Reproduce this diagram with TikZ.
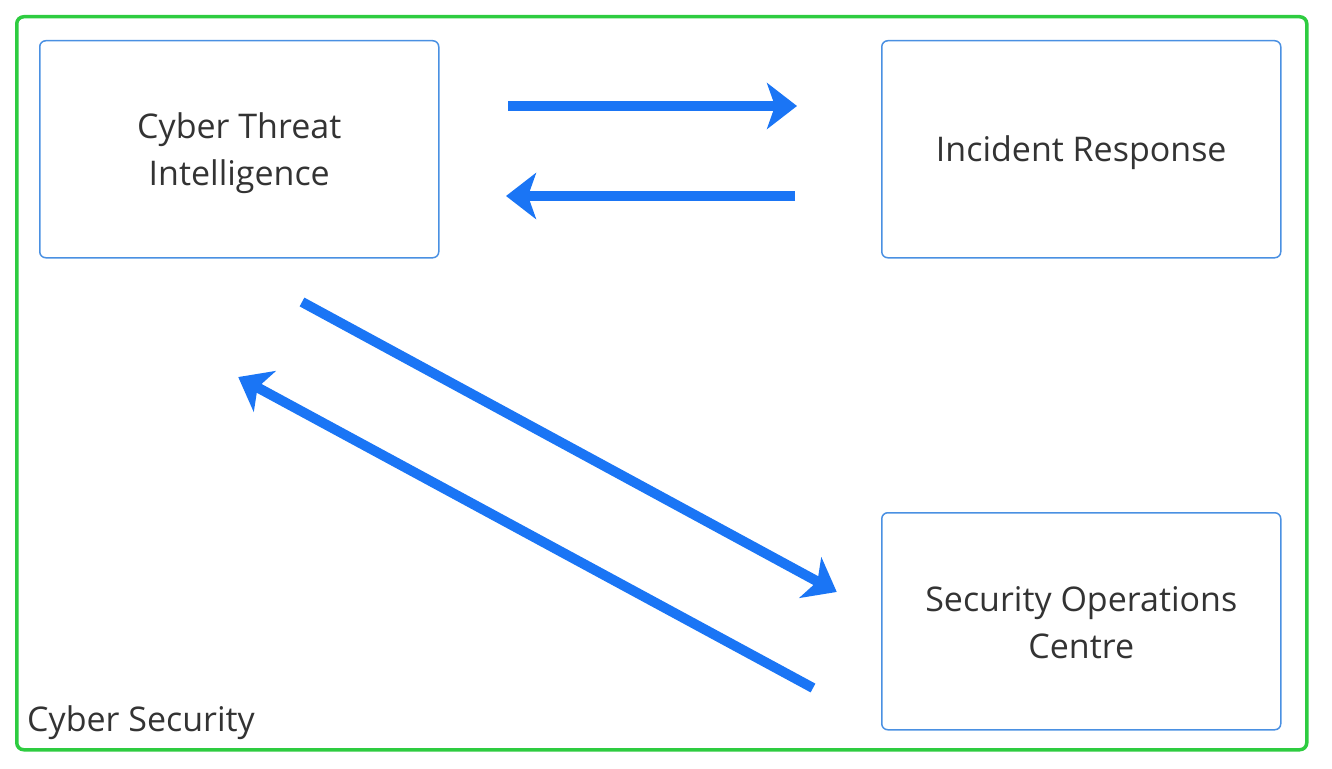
\documentclass[tikz,border=0pt]{standalone}
\usepackage{fontspec}
\setmainfont{Open Sans}
\usetikzlibrary{arrows.meta}
\definecolor{framegreen}{HTML}{2ECC40}
\definecolor{boxblue}{HTML}{4A90E2}
\definecolor{arrowblue}{HTML}{1A75F5}
\definecolor{txt}{HTML}{333333}
\tikzset{
  box/.style={draw=boxblue, line width=1.5pt, rounded corners=6pt, minimum width=399pt, minimum height=217pt, anchor=north west, inner sep=0pt},
  boxtext/.style={align=center, text=txt, font=\fontsize{34}{47}\selectfont, inner sep=0pt},
  flow/.style={draw=arrowblue, line width=10pt, -{Stealth[length=30pt, width=46pt, inset=8pt]}},
}
\begin{document}
\begin{tikzpicture}[x=1pt,y=-1pt]
\useasboundingbox (0,0) rectangle (1332,768);
\node[draw=framegreen, line width=3.5pt, rounded corners=7pt, minimum width=1290pt, minimum height=733pt, anchor=north west, inner sep=0pt] (frame) at (15,15) {};
\node[anchor=base west, text=txt, font=\fontsize{34}{40}\selectfont, inner sep=0pt] (cs) at (27,731) {Cyber Security};
\node[box] (cti) at (39,40) {};
\node[box] (ir) at (881,40) {};
\node[box] (soc) at (881,512) {};
\node[boxtext] (ctit) at ([yshift=-3.5pt]cti.center) {Cyber Threat\\Intelligence};
\node[boxtext] (irt) at ([yshift=-3.5pt]ir.center) {Incident Response};
\node[boxtext] (soct) at ([yshift=-1.5pt]soc.center) {Security Operations\\Centre};
\coordinate (a1s) at (508,106);
\coordinate (a1e) at (795,106);
\coordinate (a2s) at (795,196);
\coordinate (a2e) at (508,196);
\coordinate (a3s) at (302,302);
\coordinate (a3e) at (835,591);
\coordinate (a4s) at (813,688);
\coordinate (a4e) at (240,378);
\draw[flow, shorten >=-2pt] (a1s) -- (a1e);
\draw[flow, shorten >=-2pt] (a2s) -- (a2e);
\draw[flow, shorten >=-2pt] (a3s) -- (a3e);
\draw[flow, shorten >=-2pt] (a4s) -- (a4e);
\end{tikzpicture}
\end{document}
